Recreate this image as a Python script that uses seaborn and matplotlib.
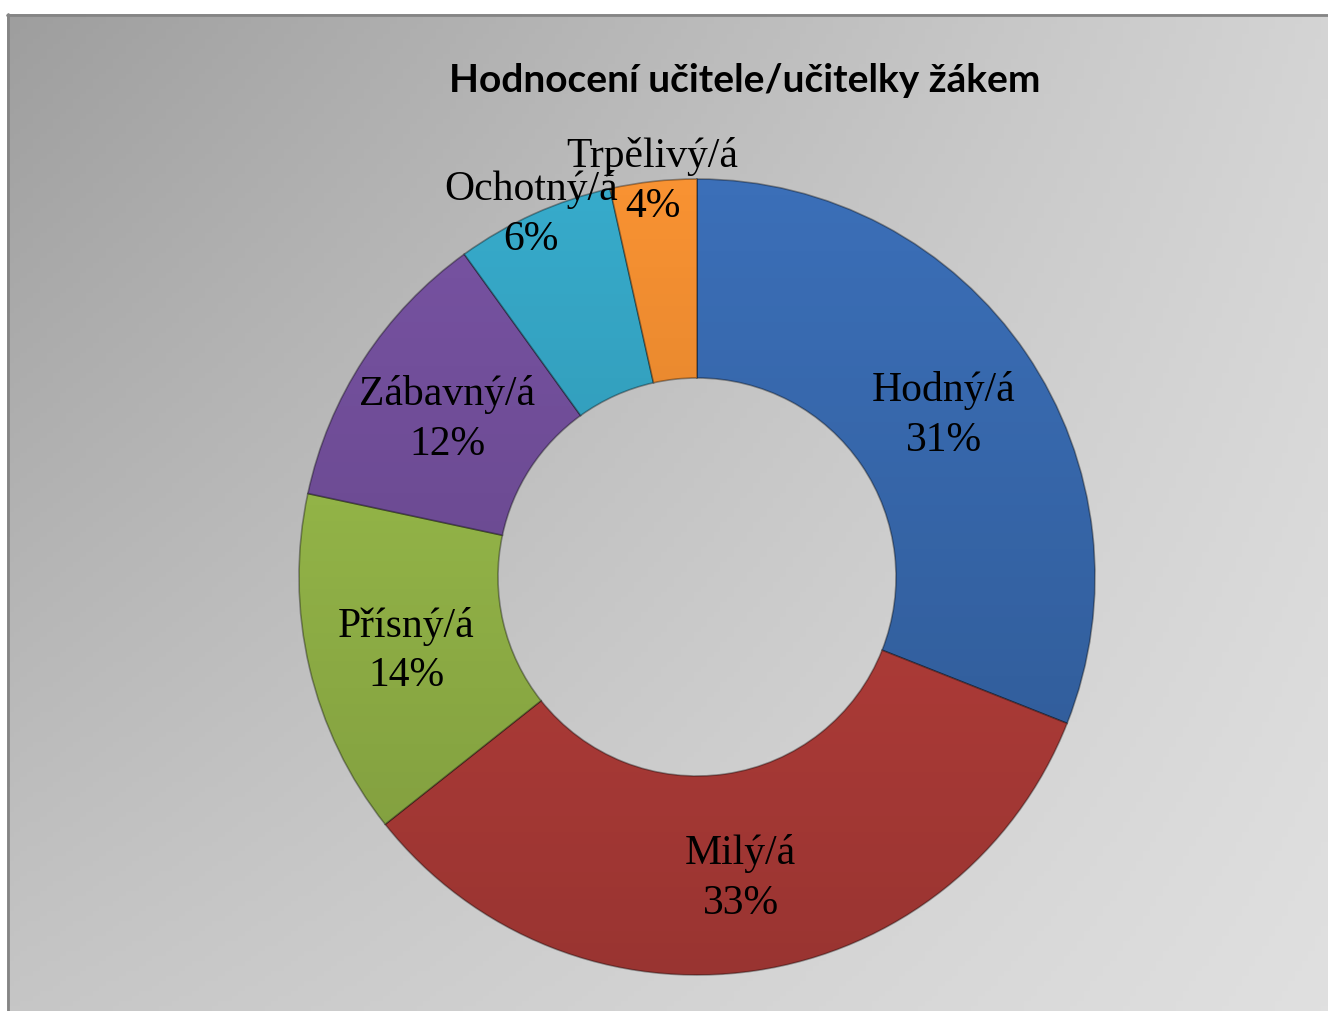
import numpy as np
import seaborn as sns
import matplotlib.pyplot as plt

# data (pocty odpovedi, procenta se dopocitaji)
kategorie = ['Hodný/á', 'Milý/á', 'Přísný/á', 'Zábavný/á', 'Ochotný/á', 'Trpělivý/á']
pocty = [53, 57, 24, 20, 11, 6]
barvy = ['#3b6fb8', '#c4433f', '#a0c44e', '#7853a3', '#37abcb', '#f89232']
titulek = 'Hodnocení učitele/učitelky žákem'

sns.set_theme(style='white')
plt.rcParams['font.family'] = ['Liberation Serif', 'DejaVu Serif']

W, H = 1328, 1012
fig = plt.figure(figsize=(W / 100, H / 100), dpi=100, facecolor='white')

# pozadi s gradientem
bg = fig.add_axes([0, 0, 1, 1])
bg.set_xlim(0, W)
bg.set_ylim(0, H)
bg.axis('off')
xx, yy = np.meshgrid(np.linspace(0, 1, 200), np.linspace(0, 1, 200))
tl, tr, bl, br = 158, 212, 198, 224
g = (tl * (1 - xx) * (1 - yy) + tr * xx * (1 - yy) + bl * (1 - xx) * yy + br * xx * yy) / 255
bg.imshow(np.dstack([g, g, g]), extent=[7, W, 0, H - 15], origin='upper', aspect='auto', zorder=0)
bg.plot([8, 8], [0, H - 15], color='#858585', lw=2, zorder=1)
bg.plot([7, W], [H - 16, H - 16], color='#858585', lw=2, zorder=1)

# prstenec
R = 398
lim = 1.15
side = 2 * lim * R
cx, cy = 697, H - 578
ax = fig.add_axes([(cx - side / 2) / W, (cy - side / 2) / H, side / W, side / H])
ax.patch.set_alpha(0)

wedges, _ = ax.pie(pocty, colors=barvy, startangle=90, counterclock=False, radius=1,
                   wedgeprops=dict(width=0.5, edgecolor=(0, 0, 0, 0.35), linewidth=1.2))
ax.set_xlim(-lim, lim)
ax.set_ylim(-lim, lim)
ax.set_aspect('equal')
ax.axis('off')

# ztmaveni smerem dolu
shade = np.zeros((200, 2, 4))
shade[:, :, 3] = np.linspace(0.0, 0.22, 200)[:, None]
for w in wedges:
    im = ax.imshow(shade, extent=[-1, 1, -1, 1], origin='upper', aspect='auto', zorder=3)
    im.set_clip_path(w)

# popisky
total = sum(pocty)
for w, name, n in zip(wedges, kategorie, pocty):
    p = round(100 * n / total)
    mid = np.deg2rad((w.theta1 + w.theta2) / 2)
    r = 0.75 if p >= 8 else 1.015
    ax.annotate(f'{name}\n{p}%', (r * np.cos(mid), r * np.sin(mid)),
                xytext=(0, -5), textcoords='offset pixels', ha='center', va='center',
                fontsize=30, color='black', linespacing=1.38, zorder=5, annotation_clip=False)

fig.text(745 / W, (H - 80) / H, titulek, ha='center', va='center', fontsize=28,
         fontweight='bold', family=['Lato', 'DejaVu Sans'], color='black')

fig.savefig('out.png', dpi=100, facecolor='white')
